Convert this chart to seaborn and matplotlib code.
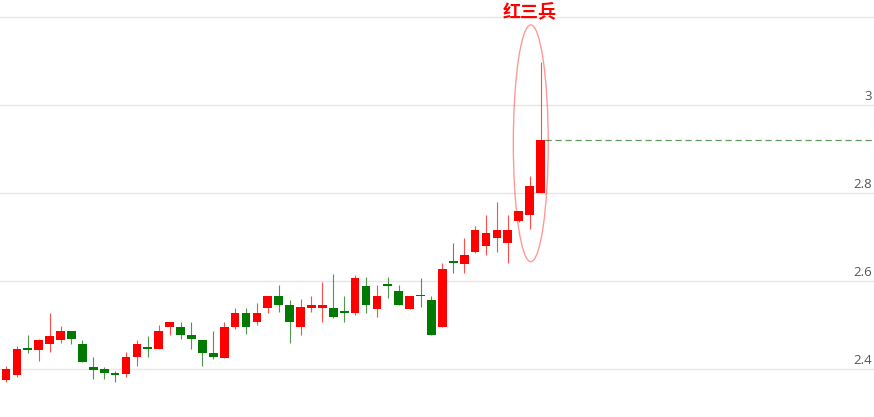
import numpy as np
import seaborn as sns
import matplotlib.pyplot as plt
from matplotlib.patches import Ellipse

# daily OHLC values
opens = [2.375, 2.386, 2.446, 2.443, 2.457, 2.467, 2.487, 2.458, 2.405, 2.399,
         2.388, 2.389, 2.427, 2.447, 2.445, 2.496, 2.496, 2.477, 2.467, 2.437,
         2.425, 2.496, 2.527, 2.507, 2.539, 2.567, 2.546, 2.496, 2.539, 2.539,
         2.539, 2.529, 2.528, 2.589, 2.537, 2.591, 2.578, 2.537, 2.567, 2.558,
         2.496, 2.643, 2.639, 2.666, 2.680, 2.698, 2.687, 2.737, 2.749, 2.799]
closes = [2.400, 2.446, 2.444, 2.467, 2.475, 2.487, 2.469, 2.416, 2.398, 2.390,
          2.386, 2.427, 2.457, 2.445, 2.487, 2.507, 2.477, 2.469, 2.437, 2.427,
          2.496, 2.527, 2.496, 2.528, 2.567, 2.546, 2.507, 2.540, 2.546, 2.546,
          2.519, 2.527, 2.608, 2.546, 2.566, 2.589, 2.546, 2.566, 2.565, 2.477,
          2.628, 2.641, 2.658, 2.717, 2.710, 2.717, 2.717, 2.758, 2.817, 2.920]
highs = [2.407, 2.452, 2.478, 2.468, 2.528, 2.498, 2.487, 2.467, 2.427, 2.405,
         2.396, 2.439, 2.466, 2.475, 2.499, 2.507, 2.507, 2.507, 2.467, 2.487,
         2.507, 2.539, 2.539, 2.549, 2.567, 2.590, 2.558, 2.560, 2.566, 2.598,
         2.617, 2.566, 2.614, 2.610, 2.590, 2.610, 2.590, 2.566, 2.608, 2.566,
         2.640, 2.687, 2.698, 2.725, 2.749, 2.780, 2.749, 2.760, 2.839, 3.098]
lows = [2.370, 2.382, 2.437, 2.419, 2.439, 2.460, 2.458, 2.416, 2.378, 2.378,
        2.370, 2.383, 2.408, 2.428, 2.445, 2.478, 2.469, 2.446, 2.408, 2.422,
        2.425, 2.492, 2.480, 2.499, 2.528, 2.530, 2.460, 2.478, 2.530, 2.508,
        2.517, 2.508, 2.522, 2.528, 2.519, 2.561, 2.546, 2.537, 2.540, 2.477,
        2.496, 2.619, 2.619, 2.663, 2.660, 2.667, 2.642, 2.733, 2.719, 2.799]

grid_levels = [2.4, 2.6, 2.8, 3.0, 3.2]
tick_labels = ["2.4", "2.6", "2.8", "3"]
last_close = 2.92
pattern_name = "红三兵"

sns.set_theme(style="white")
plt.rcParams['font.family'] = ['Noto Sans CJK SC', 'DejaVu Sans']

o = np.array(opens)
c = np.array(closes)
h = np.array(highs)
l = np.array(lows)
x = np.arange(len(o))
up = c >= o
colors = np.where(up, '#ff0000', '#007a00')
wick_colors = np.where(up, '#ff4d4d', '#4f964f')

fig = plt.figure(figsize=(8.74, 4.17), dpi=100)
ax = fig.add_axes([0, 0, 1, 1])

# grid
for g in grid_levels:
    ax.axhline(g, color='#e6e6e6', lw=1, zorder=0)

# wicks and bodies
ax.vlines(x, l, h, colors=wick_colors, lw=0.8, zorder=2)
bottoms = np.minimum(o, c)
heights = np.maximum(np.abs(c - o), 0.004)
ax.bar(x, heights, bottom=bottoms, width=0.8, color=colors, lw=0, zorder=3)

# last close dashed line
ax.hlines(last_close, 49.4, 80, colors='#5a9a5a', lw=0.9, linestyles=(0, (5, 3)), zorder=1)

# pattern highlight
ax.add_patch(Ellipse((48.1, 2.913), 3.2, 0.538, fill=False,
                     edgecolor='#ff0000', alpha=0.4, lw=1, zorder=4))
ax.text(48.0, 3.212, pattern_name, color='#ff0000', fontsize=13, fontweight='bold',
        ha='center', va='center', zorder=5)

# right-side labels above the grid lines
for g, t in zip(grid_levels, tick_labels):
    ax.text(0.998, g + 0.004, t, transform=ax.get_yaxis_transform(),
            ha='right', va='bottom', fontsize=9.5, color='#555555',
            family=['Open Sans', 'DejaVu Sans'])

ax.set_xlim(-0.55, 79.56)
ax.set_ylim(2.291, 3.2386)
ax.set_xticks([])
ax.set_yticks([])
sns.despine(ax=ax, left=True, bottom=True)

fig.savefig("out.png", dpi=100)
